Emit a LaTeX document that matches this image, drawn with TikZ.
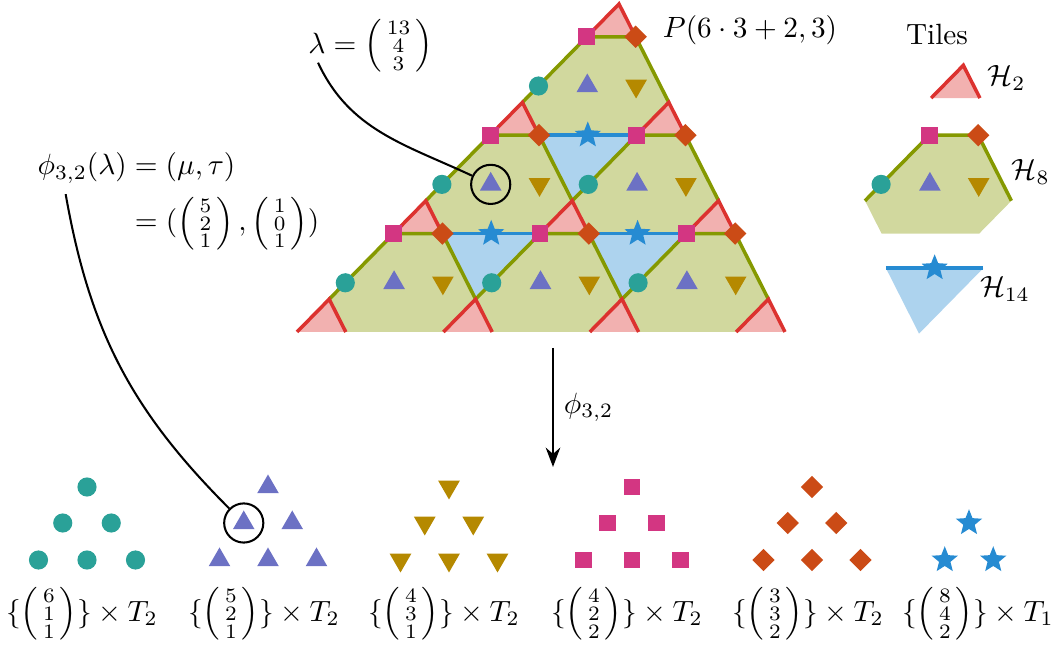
\documentclass[tikz,border=0pt]{standalone}
\usepackage{amsmath}
\usepackage{tikz}
\usetikzlibrary{positioning,shapes.geometric,arrows.meta}

\definecolor{solcyan}{HTML}{2AA198}
\definecolor{solviolet}{HTML}{6C71C4}
\definecolor{solyellow}{HTML}{B58900}
\definecolor{solmagenta}{HTML}{D33682}
\definecolor{solorange}{HTML}{CB4B16}
\definecolor{solblue}{HTML}{268BD2}
\definecolor{solred}{HTML}{DC322F}
\definecolor{solgreen}{HTML}{859900}

\newcommand{\colvec}[1]{\left(\begin{smallmatrix}#1\end{smallmatrix}\right)}

\tikzset{
mdot/.style={circle, fill=solcyan, inner sep=0pt, minimum size=0.23cm},
mup/.style={regular polygon, regular polygon sides=3, fill=solviolet, inner sep=0pt, minimum size=0.3cm},
mdown/.style={regular polygon, regular polygon sides=3, shape border rotate=180, fill=solyellow, inner sep=0pt, minimum size=0.3cm},
msquare/.style={rectangle, fill=solmagenta, inner sep=0pt, minimum size=0.2cm},
mdiamond/.style={rectangle, rotate=45, fill=solorange, inner sep=0pt, minimum size=0.19cm},
mstar/.style={star, star points=5, star point ratio=2.3, fill=solblue, inner sep=0pt, minimum size=0.33cm},
hlcircle/.style={circle, draw, line width=0.7pt, minimum size=0.47cm},
edge/.style={line width=1.2pt}
}

\begin{document}
\begin{tikzpicture}[every node/.style={align=center}]
\useasboundingbox (0,0) rectangle (12.66,7.752);

% Tiling (lattice coordinates), tiles of the legend included
\begin{scope}[shift={(3.564cm,3.768cm)}, x={(0.5856cm,0cm)}, y={(0.3864cm,0.3936cm)}]

\foreach \a/\b in {0/0,3/0,6/0,0/3,3/3,0/6,9/3}
  \fill[solgreen!38] ({\a+1},\b) -- ({\a+3},\b) -- ({\a+3},{\b+1}) -- ({\a+1},{\b+3}) -- (\a,{\b+3}) -- (\a,{\b+1}) -- cycle;
\foreach \a/\b in {0/0,3/0,6/0,9/0,0/3,3/3,6/3,0/6,3/6,0/9,8.29/7.13}
  \fill[solred!38] (\a,\b) -- ({\a+1},\b) -- (\a,{\b+1}) -- cycle;
\foreach \a/\b in {0/0,3/0,0/3,9.78/-1.05}
  \fill[solblue!38] ({\a+1},{\b+3}) -- ({\a+3},{\b+3}) -- ({\a+3},{\b+1}) -- cycle;

\foreach \a/\b in {0/0,3/0,6/0,0/3,3/3,0/6,9/3}
  \draw[edge, solgreen] (\a,{\b+1}) -- (\a,{\b+3}) -- ({\a+1},{\b+3}) -- ({\a+3},{\b+1});
\foreach \a/\b in {0/0,3/0,6/0,9/0,0/3,3/3,6/3,0/6,3/6,0/9,8.29/7.13}
  \draw[edge, solred] (\a,\b) -- (\a,{\b+1}) -- ({\a+1},\b);
\foreach \a/\b in {0/0,3/0,0/3,9.78/-1.05}
  \draw[edge, solblue] ({\a+1},{\b+3}) -- ({\a+3},{\b+3});

% Markers
\foreach \a/\b [count=\n] in {0/0,3/0,6/0,0/3,3/3,0/6,9/3}{
  \node[mdot] (dot\n) at (\a,{\b+1.5}) {};
  \node[mup] (up\n) at ({\a+1},{\b+1.5}) {};
  \node[mdown] (down\n) at ({\a+2},{\b+1.5}) {};
  \node[msquare] (sq\n) at (\a,{\b+3}) {};
  \node[mdiamond] (dia\n) at ({\a+1},{\b+3}) {};
}
\foreach \a/\b [count=\n] in {0/0,3/0,0/3,9.78/-1.05}
  \node[mstar] (star\n) at ({\a+2},{\b+3}) {};

\node[hlcircle] (lamcirc) at (up4) {};
\end{scope}

% Labels of the tiling
\node (ptitle) at (9.0,7.39) {$P(6\cdot 3+2,3)$};
\node (tiles) at (11.244,7.332) {Tiles};
\node (h2) at (12.08,6.816) {$\mathcal{H}_2$};
\node (h8) at (12.37,5.688) {$\mathcal{H}_8$};
\node (h14) at (12.06,4.284) {$\mathcal{H}_{14}$};

\node (lam) at (4.446,7.2) {$\lambda=\colvec{13\\4\\3}$};
\node (phi) at (2.142,5.352)
{$\begin{aligned}\phi_{3,2}(\lambda)&=(\mu,\tau)\\&=(\colvec{5\\2\\1},\colvec{1\\0\\1})\end{aligned}$};

% Map
\coordinate (mapfrom) at (6.636,3.576);
\coordinate (mapto) at (6.636,2.148);
\draw[-{Stealth}, thick] (mapfrom) -- node[right] {$\phi_{3,2}$} (mapto);

% Bottom Row
\foreach \s/\x [count=\g] in {mdot/1.044, mup/3.216, mdown/5.388, msquare/7.584, mdiamond/9.744}
  \foreach \dx/\y [count=\k] in {0/1.908, -0.291/1.476, 0.291/1.476, -0.582/1.032, 0/1.032, 0.582/1.032}
    \node[\s] (g\g-\k) at ({\x+\dx},\y) {};
\foreach \dx/\y [count=\k] in {0/1.476, -0.291/1.032, 0.291/1.032}
  \node[mstar] (g6-\k) at ({11.628+\dx},\y) {};

\node[hlcircle] (mucirc) at (g2-2) {};

\node (lab1) at (0.984,0.384) {$\{\colvec{6\\1\\1}\}\times T_2$};
\node (lab2) at (3.168,0.384) {$\{\colvec{5\\2\\1}\}\times T_2$};
\node (lab3) at (5.328,0.384) {$\{\colvec{4\\3\\1}\}\times T_2$};
\node (lab4) at (7.524,0.384) {$\{\colvec{4\\2\\2}\}\times T_2$};
\node (lab5) at (9.696,0.384) {$\{\colvec{3\\3\\2}\}\times T_2$};
\node (lab6) at (11.736,0.384) {$\{\colvec{8\\4\\2}\}\times T_1$};

% Pointers
\draw[line width=0.7pt] ([shift={(0.24,0.24)}]lam.south west) to[out=-65, in=155] (lamcirc);
\draw[line width=0.7pt] ([shift={(0.46,0.07)}]phi.west) to[out=-80, in=135] (mucirc);

\end{tikzpicture}
\end{document}
